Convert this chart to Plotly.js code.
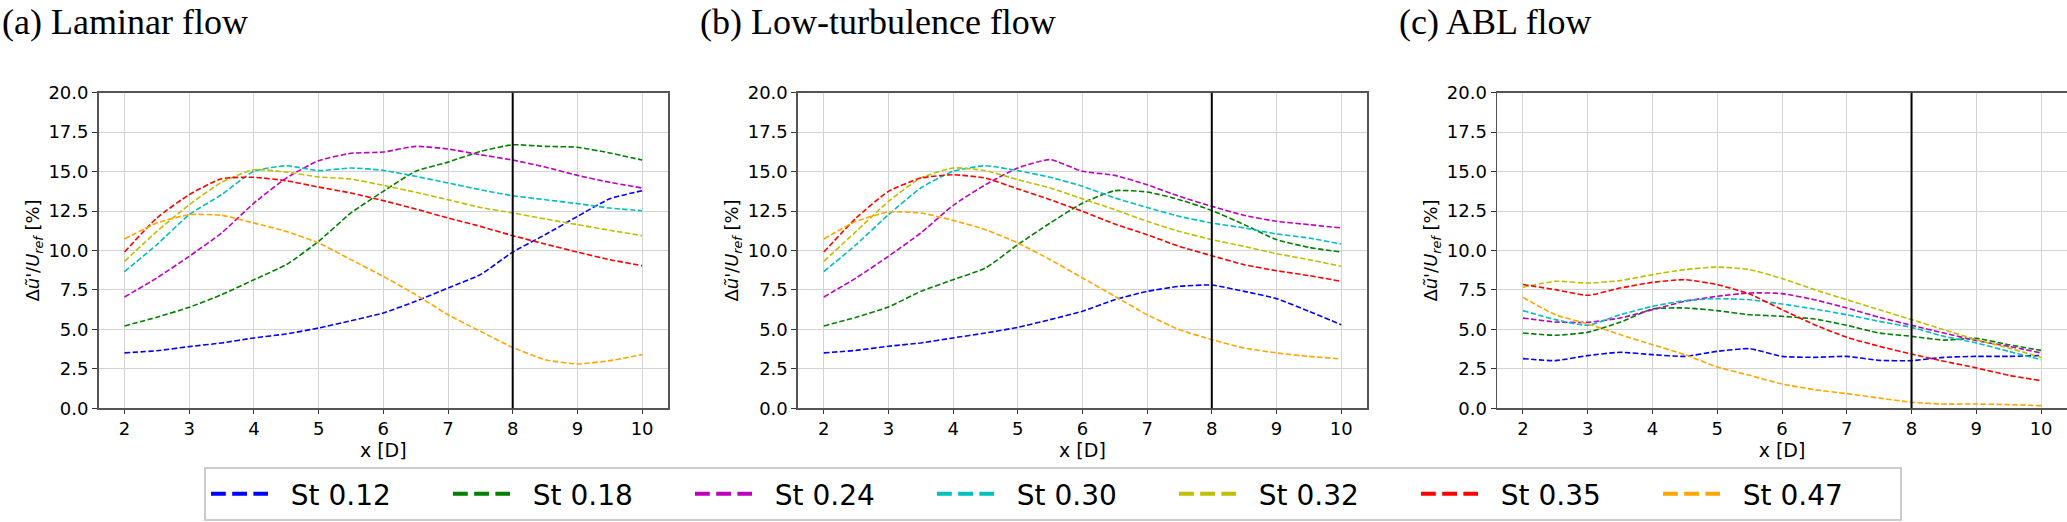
<!DOCTYPE html>
<html>
<head>
<meta charset="utf-8">
<script src="https://cdn.plot.ly/plotly-3.0.1.min.js"></script>
<style>html,body{margin:0;padding:0;background:#fff;}#chart{width:2067px;height:522px;}</style>
</head>
<body>
<div id="chart"></div>
<script>
// ---------- data ----------
var xPositions = [2, 2.5, 3, 3.5, 4, 4.5, 5, 5.5, 6, 6.5, 7, 7.5, 8, 8.5, 9, 9.5, 10];
var seriesNames = ["St 0.12", "St 0.18", "St 0.24", "St 0.30", "St 0.32", "St 0.35", "St 0.47"];
var panelTitles = ["(a) Laminar flow", "(b) Low-turbulence flow", "(c) ABL flow"];
var referenceX = 8;

// (a) Laminar flow
var laminarSt012 = [3.51,3.65,3.91,4.14,4.46,4.71,5.09,5.55,6.04,6.78,7.62,8.47,9.9,11.0,12.16,13.28,13.79];
var laminarSt018 = [5.22,5.77,6.4,7.2,8.15,9.1,10.58,12.38,13.75,15.02,15.6,16.28,16.7,16.6,16.54,16.18,15.73];
var laminarSt024 = [7.05,8.26,9.63,11.11,13.0,14.59,15.69,16.16,16.24,16.6,16.43,16.07,15.73,15.29,14.76,14.32,13.96];
var laminarSt030 = [8.66,10.37,12.27,13.54,15.02,15.37,15.06,15.23,15.08,14.7,14.28,13.85,13.47,13.22,12.97,12.69,12.52];
var laminarSt032 = [9.31,11.21,12.9,14.32,15.12,14.97,14.66,14.53,14.13,13.69,13.22,12.73,12.38,12.0,11.64,11.28,10.94];
var laminarSt035 = [9.9,12.06,13.54,14.55,14.64,14.42,14.02,13.64,13.16,12.63,12.06,11.53,10.94,10.41,9.9,9.42,9.04];
var laminarSt047 = [10.73,11.74,12.27,12.23,11.74,11.21,10.48,9.42,8.36,7.2,5.93,4.88,3.86,3.08,2.81,3.02,3.4];

// (b) Low-turbulence flow
var lowTurbSt012 = [3.51,3.67,3.93,4.14,4.46,4.77,5.13,5.62,6.15,6.88,7.41,7.73,7.81,7.41,6.95,6.15,5.3];
var lowTurbSt018 = [5.22,5.77,6.42,7.41,8.15,8.89,10.37,11.74,13.0,13.79,13.71,13.22,12.54,11.64,10.69,10.2,9.9];
var lowTurbSt024 = [7.05,8.26,9.63,11.11,12.86,14.17,15.23,15.76,15.02,14.76,14.17,13.43,12.8,12.23,11.85,11.64,11.43];
var lowTurbSt030 = [8.66,10.37,12.27,13.96,15.02,15.37,15.06,14.64,14.07,13.33,12.73,12.16,11.74,11.43,11.05,10.79,10.41];
var lowTurbSt032 = [9.31,11.21,13.11,14.59,15.23,15.06,14.49,13.96,13.28,12.59,11.85,11.21,10.69,10.26,9.8,9.42,9.0];
var lowTurbSt035 = [9.9,12.06,13.75,14.59,14.8,14.59,13.9,13.22,12.48,11.68,11.0,10.26,9.67,9.1,8.72,8.41,8.05];
var lowTurbSt047 = [10.73,11.85,12.44,12.38,11.91,11.32,10.48,9.42,8.26,7.1,5.93,4.98,4.35,3.82,3.51,3.29,3.13];

// (c) ABL flow
var ablSt012 = [3.15,3.02,3.34,3.55,3.4,3.29,3.61,3.78,3.29,3.23,3.29,3.04,3.02,3.23,3.29,3.29,3.34];
var ablSt018 = [4.77,4.63,4.82,5.45,6.29,6.36,6.19,5.93,5.83,5.66,5.26,4.77,4.56,4.32,4.43,4.03,3.67];
var ablSt024 = [5.72,5.47,5.45,5.72,6.25,6.78,7.1,7.31,7.27,6.88,6.36,5.77,5.26,4.77,4.29,3.93,3.51];
var ablSt030 = [6.19,5.62,5.26,5.93,6.46,6.82,6.95,6.88,6.61,6.29,5.93,5.51,5.13,4.56,4.14,3.61,3.08];
var ablSt032 = [7.67,8.05,7.94,8.09,8.47,8.79,8.95,8.79,8.22,7.52,6.88,6.25,5.62,4.98,4.35,3.82,3.23];
var ablSt035 = [7.84,7.52,7.16,7.62,7.98,8.15,7.84,7.24,6.25,5.3,4.5,3.93,3.44,2.98,2.56,2.09,1.75];
var ablSt047 = [7.03,5.93,5.35,4.67,4.03,3.4,2.62,2.09,1.54,1.18,0.93,0.65,0.38,0.27,0.27,0.23,0.17];

// ---------- build ----------
var colors = ["#0000ff", "#008000", "#bf00bf", "#00bfbf", "#bfbf00", "#ff0000", "#ffa500"];
var panels = [
  [laminarSt012, laminarSt018, laminarSt024, laminarSt030, laminarSt032, laminarSt035, laminarSt047],
  [lowTurbSt012, lowTurbSt018, lowTurbSt024, lowTurbSt030, lowTurbSt032, lowTurbSt035, lowTurbSt047],
  [ablSt012, ablSt018, ablSt024, ablSt030, ablSt032, ablSt035, ablSt047]
];

var W = 2067, H = 522;
var traces = [];
panels.forEach(function (series, p) {
  var sfx = p === 0 ? "" : String(p + 1);
  series.forEach(function (vals, i) {
    traces.push({
      type: "scatter", mode: "lines",
      x: xPositions, y: vals,
      xaxis: "x" + sfx, yaxis: "y" + sfx,
      line: { color: colors[i], width: 1.6, dash: "5.5px,2.4px", shape: "spline", smoothing: 0.5 },
      showlegend: false, hoverinfo: "skip"
    });
  });
});
// legend entries (thicker dashed samples, as in the reference legend)
seriesNames.forEach(function (name, i) {
  traces.push({
    type: "scatter", mode: "lines", x: [null], y: [null],
    name: "\u00a0\u00a0" + name,
    line: { color: colors[i], width: 4, dash: "14.8px,6.4px" },
    showlegend: true, hoverinfo: "skip"
  });
});

var xDomains = [[98.6 / W, 668 / W], [797.9 / W, 1367 / W], [1497 / W, 1]];
var yDomain = [(H - 408.3) / H, (H - 92.7) / H];
var tickFont = { family: "DejaVu Sans", size: 18, color: "#000" };
var yTitle = "Δ<i>u\u0303'</i>/<i>U</i><sub><i>ref</i></sub> [%]";

var layout = {
  width: W, height: H,
  margin: { l: 0, r: 0, t: 0, b: 0, pad: 0, autoexpand: false },
  paper_bgcolor: "#fff", plot_bgcolor: "#fff",
  showlegend: true,
  legend: {
    orientation: "h", x: 204 / W, xanchor: "left", y: (H - 467) / H, yanchor: "top",
    bgcolor: "#fff", bordercolor: "#cccccc", borderwidth: 2,
    font: { family: "DejaVu Sans", size: 28, color: "#000" },
    entrywidth: 170, entrywidthmode: "pixels", itemwidth: 57,
    traceorder: "normal"
  },
  annotations: [],
  shapes: []
};

var titleX = [0, 698 / W, 1397 / W];
for (var p = 0; p < 3; p++) {
  var sfx = p === 0 ? "" : String(p + 1);
  layout["xaxis" + sfx] = {
    domain: xDomains[p], anchor: "y" + sfx,
    range: [1.6, 10.4], tick0: 2, dtick: 1,
    showgrid: true, gridcolor: "#d3d3d3", gridwidth: 1,
    zeroline: false, showline: true, linecolor: "#555", linewidth: 1.5, mirror: true,
    ticks: "outside", ticklen: 4, tickcolor: "#333", tickfont: tickFont,
    title: { text: "x [D]", font: { family: "DejaVu Sans", size: 19, color: "#000" }, standoff: 3 }
  };
  layout["yaxis" + sfx] = {
    domain: yDomain, anchor: "x" + sfx,
    range: [0, 20], tick0: 0, dtick: 2.5, tickformat: ".1f",
    showgrid: true, gridcolor: "#d3d3d3", gridwidth: 1,
    zeroline: false, showline: true, linecolor: "#555", linewidth: 1.5, mirror: true,
    ticks: "outside", ticklen: 5, tickcolor: "#333", tickfont: tickFont,
    title: { text: yTitle, font: { family: "DejaVu Sans", size: 18, color: "#000" }, standoff: 4 }
  };
  layout.annotations.push({
    text: panelTitles[p], xref: "paper", yref: "paper",
    x: titleX[p], y: 1.0, xanchor: "left", yanchor: "top", showarrow: false,
    font: { family: "Liberation Serif", size: 36, color: "#000" }
  });
  layout.shapes.push({
    type: "line", xref: "x" + sfx, yref: "y" + sfx + " domain",
    x0: referenceX, x1: referenceX, y0: 0, y1: 1,
    line: { color: "#000", width: 2 }
  });
}

Plotly.newPlot("chart", traces, layout, { staticPlot: true, displayModeBar: false });
</script>
</body>
</html>
